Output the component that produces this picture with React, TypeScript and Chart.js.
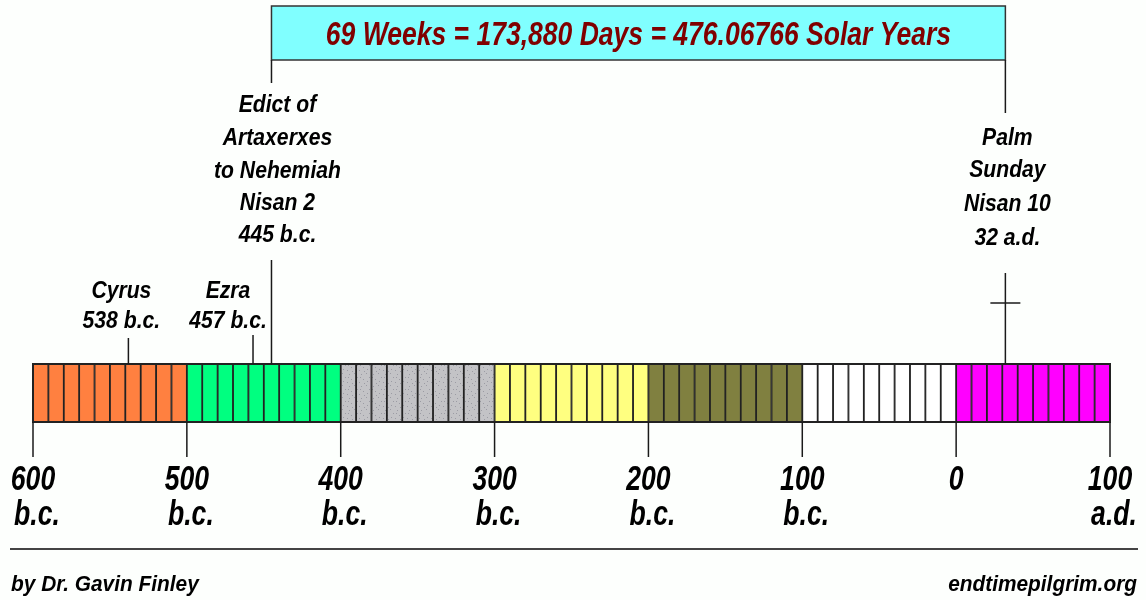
import React, { useEffect, useRef } from "react";
import { Chart, registerables } from "chart.js";

Chart.register(...registerables);

// ---------- data ----------
const centuryStarts = [-600, -500, -400, -300, -200, -100, 0];
const centuryColors = ["#ff8040", "#00ff80", "pattern", "#ffff80", "#808040", "#ffffff", "#ff00ff"];
const decadesPerCentury = 10;

const tickYears = [-600, -500, -400, -300, -200, -100, 0, 100];
const tickNumbers = ["600", "500", "400", "300", "200", "100", "0", "100"];
const tickEras = ["b.c.", "b.c.", "b.c.", "b.c.", "b.c.", "b.c.", "", "a.d."];

const eventYears = [-538, -457, -445, 32];
const eventLabels = [
  ["Cyrus", "538 b.c."],
  ["Ezra", "457 b.c."],
  ["Edict of", "Artaxerxes", "to Nehemiah", "Nisan 2", "445 b.c."],
  ["Palm", "Sunday", "Nisan 10", "32 a.d."],
];

const spanStart = -445;
const spanEnd = 32;
const titleText = "69 Weeks = 173,880 Days = 476.06766 Solar Years";
const footerLeft = "by Dr. Gavin Finley";
const footerRight = "endtimepilgrim.org";

// ---------- layout (styles / positions) ----------
const FONT = '"Liberation Sans", "DejaVu Sans", sans-serif';
const eventLayout = [
  { dx: -7, baselines: [298, 328], lineTop: 338 },
  { dx: -25, baselines: [298, 328], lineTop: 335 },
  { dx: 6, baselines: [112, 145, 178, 210, 242], lineTop: 260 },
  { dx: 2, baselines: [145, 177, 211, 245], lineTop: 273 },
];

function makeStipple(): CanvasPattern | string {
  const c = document.createElement("canvas");
  c.width = 12;
  c.height = 12;
  const g = c.getContext("2d");
  if (!g) return "#c0c0c0";
  g.fillStyle = "#c3c3c6";
  g.fillRect(0, 0, 12, 12);
  g.fillStyle = "#9c9ca4";
  const dots = [[1, 2], [6, 1], [9, 5], [3, 7], [7, 9], [11, 10], [4, 11], [0, 5]];
  dots.forEach(([x, y]) => g.fillRect(x, y, 1, 1));
  const p = g.createPattern(c, "repeat");
  return p || "#c0c0c0";
}

function drawText(
  ctx: CanvasRenderingContext2D,
  text: string,
  x: number,
  y: number,
  size: number,
  color: string,
  align: CanvasTextAlign,
  squeeze: number
) {
  ctx.save();
  ctx.translate(x, y);
  ctx.scale(squeeze, 1);
  ctx.font = `italic bold ${size}px ${FONT}`;
  ctx.textAlign = align;
  ctx.textBaseline = "alphabetic";
  ctx.fillStyle = color;
  ctx.fillText(text, 0, 0);
  ctx.restore();
}

function line(ctx: CanvasRenderingContext2D, x1: number, y1: number, x2: number, y2: number, w = 1.5, c = "#1a1a1a") {
  ctx.save();
  ctx.strokeStyle = c;
  ctx.lineWidth = w;
  ctx.beginPath();
  ctx.moveTo(x1, y1);
  ctx.lineTo(x2, y2);
  ctx.stroke();
  ctx.restore();
}

const overlayPlugin = {
  id: "overlay",
  afterDatasetsDraw(chart: any) {
    const ctx: CanvasRenderingContext2D = chart.ctx;
    const xs = chart.scales.x;
    const { top, bottom, left, right } = chart.chartArea;
    const px = (v: number) => xs.getPixelForValue(v);

    // outer frame
    ctx.save();
    ctx.strokeStyle = "#222";
    ctx.lineWidth = 2;
    ctx.strokeRect(left, top, right - left, bottom - top);
    ctx.restore();

    // ticks & labels
    tickYears.forEach((yr, i) => {
      const x = px(yr);
      line(ctx, x, bottom, x, bottom + 35, 1.5);
      drawText(ctx, tickNumbers[i], x, 490, 35, "#000", "center", 0.76);
      if (tickEras[i]) drawText(ctx, tickEras[i], x + 4, 525, 35, "#000", "center", 0.76);
    });

    // events
    eventYears.forEach((yr, i) => {
      const x = px(yr);
      const lay = eventLayout[i];
      line(ctx, x, lay.lineTop, x, top, 1.5);
      eventLabels[i].forEach((t, j) => {
        drawText(ctx, t, x + lay.dx, lay.baselines[j], 23.5, "#000", "center", 0.9);
      });
    });

    // cross at Palm Sunday
    const cx = px(spanEnd);
    line(ctx, cx - 15, 303, cx + 15, 303, 1.5);

    // title box
    const bx1 = px(spanStart);
    const bx2 = px(spanEnd);
    ctx.save();
    ctx.fillStyle = "#80ffff";
    ctx.fillRect(bx1, 6, bx2 - bx1, 54);
    ctx.strokeStyle = "#333";
    ctx.lineWidth = 1.5;
    ctx.strokeRect(bx1, 6, bx2 - bx1, 54);
    ctx.restore();
    line(ctx, bx1, 60, bx1, 83, 1.5);
    line(ctx, bx2, 60, bx2, 113, 1.5);
    drawText(ctx, titleText, (bx1 + bx2) / 2, 45, 34, "#800000", "center", 0.78);

    // rule & footer
    line(ctx, 10, 549, 1138, 549, 2, "#444");
    drawText(ctx, footerLeft, 11, 591, 21.5, "#000", "left", 0.97);
    drawText(ctx, footerRight, 1137, 591, 21.5, "#000", "right", 0.97);
  },
};

export default function App() {
  const ref = useRef<HTMLCanvasElement | null>(null);

  useEffect(() => {
    if (!ref.current) return;
    const stipple = makeStipple();
    const cells: { x: [number, number]; y: string }[] = [];
    const colors: any[] = [];
    centuryStarts.forEach((start, ci) => {
      for (let d = 0; d < decadesPerCentury; d++) {
        const s = start + d * 10;
        cells.push({ x: [s, s + 10], y: "timeline" });
        colors.push(centuryColors[ci] === "pattern" ? stipple : centuryColors[ci]);
      }
    });

    const chart = new Chart(ref.current, {
      type: "bar",
      data: {
        labels: ["timeline"],
        datasets: [
          {
            data: cells as any,
            backgroundColor: colors,
            borderColor: "#222",
            borderWidth: 1.25,
            borderSkipped: false,
            barPercentage: 1,
            categoryPercentage: 1,
          } as any,
        ],
      },
      options: {
        indexAxis: "y",
        animation: false,
        responsive: false,
        maintainAspectRatio: false,
        layout: { padding: { left: 33, right: 36, top: 364, bottom: 178 } },
        scales: {
          x: { type: "linear", min: -600, max: 100, display: false },
          y: { type: "category", display: false },
        },
        plugins: { legend: { display: false }, tooltip: { enabled: false } },
      },
      plugins: [overlayPlugin],
    });
    return () => chart.destroy();
  }, []);

  return (
    <div style={{ position: "absolute", left: 0, top: 0, width: 1146, height: 600, background: "#fdfffd" }}>
      <canvas ref={ref} width={1146} height={600} style={{ width: 1146, height: 600, display: "block" }} />
    </div>
  );
}
